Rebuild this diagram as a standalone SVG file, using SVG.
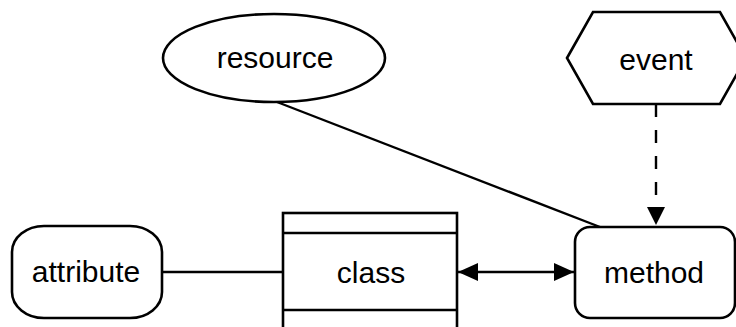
<svg xmlns="http://www.w3.org/2000/svg" width="736" height="327" viewBox="0 0 736 327">
<style>
.s{fill:#fff;stroke:#000;stroke-width:2.6}
.t{font-family:"Liberation Sans",Arial,sans-serif;font-size:30px;text-anchor:middle;fill:#000}
.c{stroke:#000;stroke-width:2.4;fill:none}
</style>
<defs>
<marker id="ah" viewBox="0 0 20 18" refX="20" refY="9" markerWidth="20" markerHeight="18" markerUnits="userSpaceOnUse" orient="auto-start-reverse">
<path d="M0,0 L20,9 L0,18 Z" fill="#000"/>
</marker>
<marker id="ad" viewBox="0 0 18 18" refX="18" refY="9" markerWidth="18" markerHeight="18" markerUnits="userSpaceOnUse" orient="auto">
<path d="M0,0 L18,9 L0,18 Z" fill="#000"/>
</marker>
</defs>
<rect width="736" height="327" fill="#fff"/>
<g id="connectors">
<line class="c" x1="277" y1="102" x2="600" y2="227"/>
<line class="c" x1="162" y1="272" x2="283" y2="272"/>
<line class="c" x1="458" y1="272" x2="574" y2="272" marker-start="url(#ah)" marker-end="url(#ah)"/>
<line class="c" x1="656" y1="104" x2="656" y2="225" stroke-dasharray="13,13" marker-end="url(#ad)"/>
</g>
<g id="resource">
<ellipse class="s" cx="274" cy="58" rx="111" ry="44"/>
<text class="t" x="275" y="68">resource</text>
</g>
<g id="event">
<polygon class="s" points="567,58 593,12 720,12 746,58 720,104 593,104"/>
<text class="t" x="656" y="70">event</text>
</g>
<g id="attribute">
<rect class="s" x="12" y="226" width="150" height="92" rx="32" ry="26"/>
<text class="t" x="86" y="282">attribute</text>
</g>
<g id="class">
<rect class="s" x="283" y="213" width="174" height="130"/>
<line class="c" x1="283" y1="233" x2="457" y2="233" stroke-width="2.6"/>
<line class="c" x1="283" y1="310" x2="457" y2="310" stroke-width="2.6"/>
<text class="t" x="371" y="283">class</text>
</g>
<g id="method">
<rect class="s" x="575" y="227" width="160" height="91" rx="15" ry="15"/>
<text class="t" x="654" y="283">method</text>
</g>
</svg>
